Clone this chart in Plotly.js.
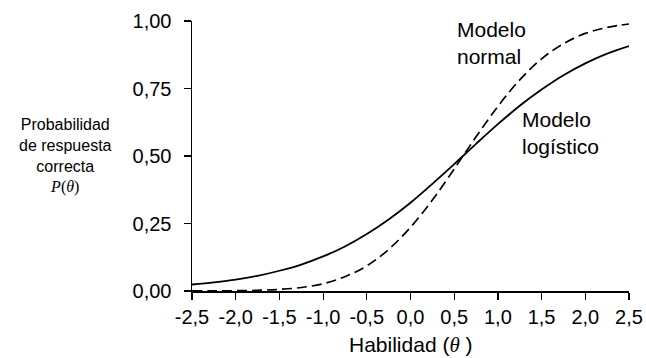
<!DOCTYPE html>
<html>
<head>
<meta charset="utf-8">
<script src="https://cdn.plot.ly/plotly-3.0.1.min.js"></script>
<style>html,body{margin:0;padding:0;background:#fff;}#chart{width:646px;height:358px;}</style>
</head>
<body>
<div id="chart"></div>
<script>
// Habilidad (theta) values
const theta = [-2.5,-2.25,-2.0,-1.75,-1.5,-1.25,-1.0,-0.75,-0.5,-0.25,0.0,0.25,0.5,0.75,1.0,1.25,1.5,1.75,2.0,2.25,2.5];
// Modelo logístico (solid)
const logistico = [0.024,0.032,0.042,0.056,0.075,0.098,0.128,0.165,0.211,0.265,0.327,0.397,0.470,0.545,0.618,0.686,0.746,0.799,0.843,0.879,0.907];
// Modelo normal (dashed)
const normal = [0.0001,0.0003,0.001,0.0024,0.006,0.013,0.027,0.053,0.093,0.154,0.236,0.337,0.452,0.571,0.684,0.782,0.860,0.916,0.954,0.976,0.989];

const xTickVals = [-2.5,-2.0,-1.5,-1.0,-0.5,0.0,0.5,1.0,1.5,2.0,2.5];
const xTickText = ["-2,5","-2,0","-1,5","-1,0","-0,5","0,0","0,5","1,0","1,5","2,0","2,5"];
const yTickVals = [0,0.25,0.5,0.75,1.0];
const yTickText = ["0,00","0,25","0,50","0,75","1,00"];
const yTitle = "Probabilidad<br>de respuesta<br>correcta<br><span style='font-family:Liberation Serif'><i>P</i>(<i>θ</i>)</span>";

const traces = [
  {x: theta, y: logistico, type:'scatter', mode:'lines', line:{color:'#000', width:1.8, shape:'spline'}, hoverinfo:'skip'},
  {x: theta, y: normal, type:'scatter', mode:'lines', line:{color:'#000', width:1.7, dash:'10px,5px', shape:'spline'}, hoverinfo:'skip'}
];

const F = "Liberation Sans, Arial, sans-serif";
const annotations = [
  {xref:'paper', yref:'paper', x:0.5, y:-0.2, xanchor:'center', yanchor:'middle', showarrow:false,
   text:"Habilidad (<span style='font-family:Liberation Serif;font-style:italic'>θ</span> )", font:{family:F, size:21, color:'#000'}},
  {xref:'paper', yref:'paper', x:0.602, y:1.02, xanchor:'left', yanchor:'top', showarrow:false, align:'left',
   text:"Modelo<br>normal", font:{family:F, size:21, color:'#000'}},
  {xref:'paper', yref:'paper', x:0.751, y:0.685, xanchor:'left', yanchor:'top', showarrow:false, align:'left',
   text:"Modelo<br>logístico", font:{family:F, size:21, color:'#000'}},
  {xref:'paper', yref:'paper', x:-0.29, y:0.5, xanchor:'center', yanchor:'middle', showarrow:false, align:'center',
   text:yTitle, font:{family:F, size:16, color:'#000'}}
];

const layout = {
  width:646, height:358,
  margin:{l:192, r:17, t:21, b:67, pad:0},
  paper_bgcolor:'#fff', plot_bgcolor:'#fff',
  showlegend:false,
  font:{family:F, color:'#000'},
  xaxis:{range:[-2.5,2.5], tickvals:xTickVals, ticktext:xTickText, ticks:'outside', ticklen:7, tickwidth:1.2, tickcolor:'#000',
         showline:true, linecolor:'#000', linewidth:1.5, showgrid:false, zeroline:false, tickfont:{family:F, size:20, color:'#000'}},
  yaxis:{range:[0,1], tickvals:yTickVals, ticktext:yTickText, ticks:'outside', ticklen:7, tickwidth:1.2, tickcolor:'#000',
         showline:true, linecolor:'#000', linewidth:1.5, showgrid:false, zeroline:false, tickfont:{family:F, size:20, color:'#000'},
         ticklabelstandoff:8},
  annotations: annotations
};
Plotly.newPlot('chart', traces, layout, {staticPlot:true, displayModeBar:false});
</script>
</body>
</html>
